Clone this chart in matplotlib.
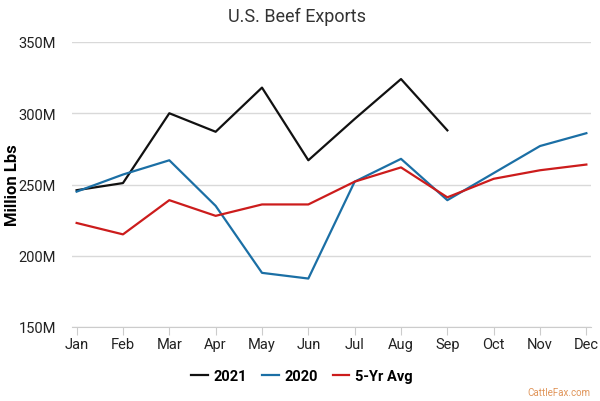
import numpy as np
import matplotlib.pyplot as plt

# monthly beef exports, million lbs
months = ["Jan", "Feb", "Mar", "Apr", "May", "Jun", "Jul", "Aug", "Sep", "Oct", "Nov", "Dec"]
exports_2021 = [246, 251, 300, 287, 318, 267, 296, 324, 288]
exports_2020 = [245, 257, 267, 235, 188, 184, 252, 268, 239, 258, 277, 286]
avg_5yr = [223, 215, 239, 228, 236, 236, 252, 262, 241, 254, 260, 264]
y_ticks = [150, 200, 250, 300, 350]

plt.rcParams['font.family'] = ['Roboto', 'DejaVu Sans']

fig = plt.figure(figsize=(6, 4.02), dpi=100)
ax = fig.add_axes([72 / 600, 1 - 328 / 402, 519 / 600, 285 / 402])

x = np.arange(len(months))
ax.plot(x[:len(exports_2021)], exports_2021, color="#111111", lw=1.6, label="2021")
ax.plot(x, exports_2020, color="#1b6fa5", lw=1.6, label="2020")
ax.plot(x, avg_5yr, color="#cc1c1c", lw=1.6, label="5-Yr Avg")

ax.set_xlim(-0.1, 11.1)
ax.set_ylim(150, 350)
ax.set_yticks(y_ticks)
ax.set_yticklabels([f"{v}M" for v in y_ticks])
ax.set_xticks(x)
ax.set_xticklabels(months)
ax.grid(axis="y", color="#d9d9d9", lw=1)
ax.set_axisbelow(True)
for s in ["top", "right", "left"]:
    ax.spines[s].set_visible(False)
ax.spines["bottom"].set_color("#cccccc")
ax.tick_params(axis="y", length=0, labelsize=10.5, colors="#222222", pad=11.5)
ax.tick_params(axis="x", length=6, color="#cccccc", labelsize=10.5, labelcolor="#222222", pad=1)

ax.set_ylabel("Million Lbs", fontsize=12, fontweight="bold", va="center")
ax.yaxis.set_label_coords(-59 / 519, 0.5)
fig.text(0.495, 1 - 17 / 402, "U.S. Beef Exports", ha="center", va="center", fontsize=13, color="#333333")

leg = fig.legend(loc="center", bbox_to_anchor=(302 / 600, 1 - 377 / 402), ncol=3, frameon=False,
                 prop={"weight": "bold", "size": 10.5}, handlelength=1.15, columnspacing=1.0, handletextpad=0.4)

fig.text(590 / 600, 1 - 393 / 402, "CattleFax.com", ha="right", va="center", fontsize=7, color="#e0955a")

fig.savefig("out.png", dpi=100)
